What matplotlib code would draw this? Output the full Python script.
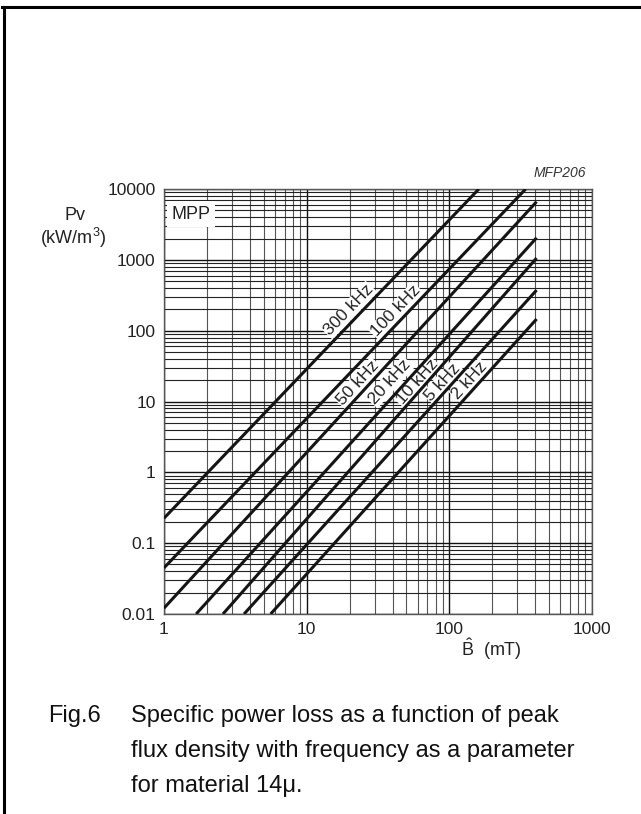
import matplotlib
matplotlib.use("Agg")
import matplotlib.pyplot as plt
from matplotlib.ticker import LogLocator, FixedLocator, FixedFormatter, NullFormatter
from matplotlib.lines import Line2D
import numpy as np

plt.rcParams['font.family'] = ['Liberation Sans', 'DejaVu Sans']
plt.rcParams['mathtext.fontset'] = 'custom'
plt.rcParams['mathtext.rm'] = 'Liberation Sans'

# frequency curves: straight lines on log-log, given by their end points
freqs = ['300 kHz', '100 kHz', '50 kHz', '20 kHz', '10 kHz', '5 kHz', '2 kHz']
b_start = [1.0, 1.0, 1.0, 1.68, 2.59, 3.64, 5.59]
pv_start = [0.225, 0.0448, 0.0121, 0.01, 0.01, 0.01, 0.01]
b_end = [161, 343, 409, 409, 409, 409, 409]
pv_end = [10000, 10000, 6620, 2050, 1060, 374, 146]

# where the curve labels sit
label_b = [19.8, 42.1, 22.9, 38.4, 59.4, 90.1, 139]
label_pv = [195, 189, 18.2, 18.8, 18.8, 18.8, 20]

x_ticks = [1, 10, 100, 1000]
x_ticklabels = ['1', '10', '100', '1000']
y_ticks = [0.01, 0.1, 1, 10, 100, 1000, 10000]
y_ticklabels = ['0.01', '0.1', '1', '10', '100', '1000', '10000']

W, H = 641, 814
fig = plt.figure(figsize=(W / 100, H / 100), dpi=100)
ax = fig.add_axes([164 / W, 1 - 614 / H, (592 - 164) / W, (614 - 189) / H])
ax.set_xscale('log')
ax.set_yscale('log')
ax.set_xlim(1, 1000)
ax.set_ylim(0.01, 10000)
ax.set_axisbelow(True)

ax.xaxis.set_major_locator(FixedLocator(x_ticks))
ax.xaxis.set_major_formatter(FixedFormatter(x_ticklabels))
ax.yaxis.set_major_locator(FixedLocator(y_ticks))
ax.yaxis.set_major_formatter(FixedFormatter(y_ticklabels))
ax.xaxis.set_minor_locator(LogLocator(base=10, subs=np.arange(2, 10), numticks=20))
ax.yaxis.set_minor_locator(LogLocator(base=10, subs=np.arange(2, 10), numticks=20))
ax.xaxis.set_minor_formatter(NullFormatter())
ax.yaxis.set_minor_formatter(NullFormatter())
ax.tick_params(which='both', length=0, labelsize=12.5, colors='#222222')
ax.tick_params(axis='x', pad=6)
ax.tick_params(axis='y', pad=6)

ax.grid(which='major', axis='both', color='#111111', lw=1.0)
ax.grid(which='minor', axis='x', color='#555555', lw=0.8)
ax.grid(which='minor', axis='y', color='#222222', lw=0.8)
for s in ax.spines.values():
    s.set_color('#555555')
    s.set_linewidth(1.0)

for i in range(len(freqs)):
    ax.plot([b_start[i], b_end[i]], [pv_start[i], pv_end[i]],
            color='#151515', lw=2.2, solid_capstyle='butt', zorder=3)

# rotation of each label follows its curve on screen
fig.canvas.draw()
for i in range(len(freqs)):
    p0 = ax.transData.transform((b_start[i], pv_start[i]))
    p1 = ax.transData.transform((b_end[i], pv_end[i]))
    ang = np.degrees(np.arctan2(p1[1] - p0[1], p1[0] - p0[0]))
    ax.text(label_b[i], label_pv[i], freqs[i], rotation=ang, rotation_mode='anchor',
            ha='center', va='center', fontsize=12.5, color='#222222', zorder=2.5,
            bbox=dict(boxstyle='square,pad=0.05', fc='white', ec='none'))

ax.text(1.12, 4400, 'MPP', fontsize=13, color='#222222', ha='left', va='center',
        zorder=2.5, bbox=dict(boxstyle='square,pad=0.25', fc='white', ec='none'))

fig.text(586 / W, 1 - 173 / H, 'MFP206', fontsize=10, style='italic',
         ha='right', va='center', color='#333333')

fig.text(75 / W, 1 - 216 / H, 'Pv', fontsize=13, ha='center', va='center', color='#222222')
fig.text(73 / W, 1 - 238 / H, '(kW/m$^3$)', fontsize=13, ha='center', va='center', color='#222222')

fig.text(461 / W, 1 - 656 / H, '$\\hat{\\mathrm{B}}$  (mT)', fontsize=13, ha='left',
         va='baseline', color='#222222')

cap = ['Specific power loss as a function of peak',
       'flux density with frequency as a parameter',
       'for material 14\u03bc.']
fig.text(48 / W, 1 - 722 / H, 'Fig.6', fontsize=17, ha='left', va='baseline', color='#111111')
for k, line in enumerate(cap):
    fig.text(131 / W, 1 - (722 + 35 * k) / H, line, fontsize=17, ha='left',
             va='baseline', color='#111111')

# outer frame (top and left only)
fig.add_artist(Line2D([3.5 / W, 3.5 / W], [0, 1 - 7 / H], transform=fig.transFigure,
                      color='black', lw=2.2))
fig.add_artist(Line2D([2.4 / W, 1], [1 - 7 / H, 1 - 7 / H], transform=fig.transFigure,
                      color='black', lw=2.2))

fig.savefig('out.png', dpi=100)
